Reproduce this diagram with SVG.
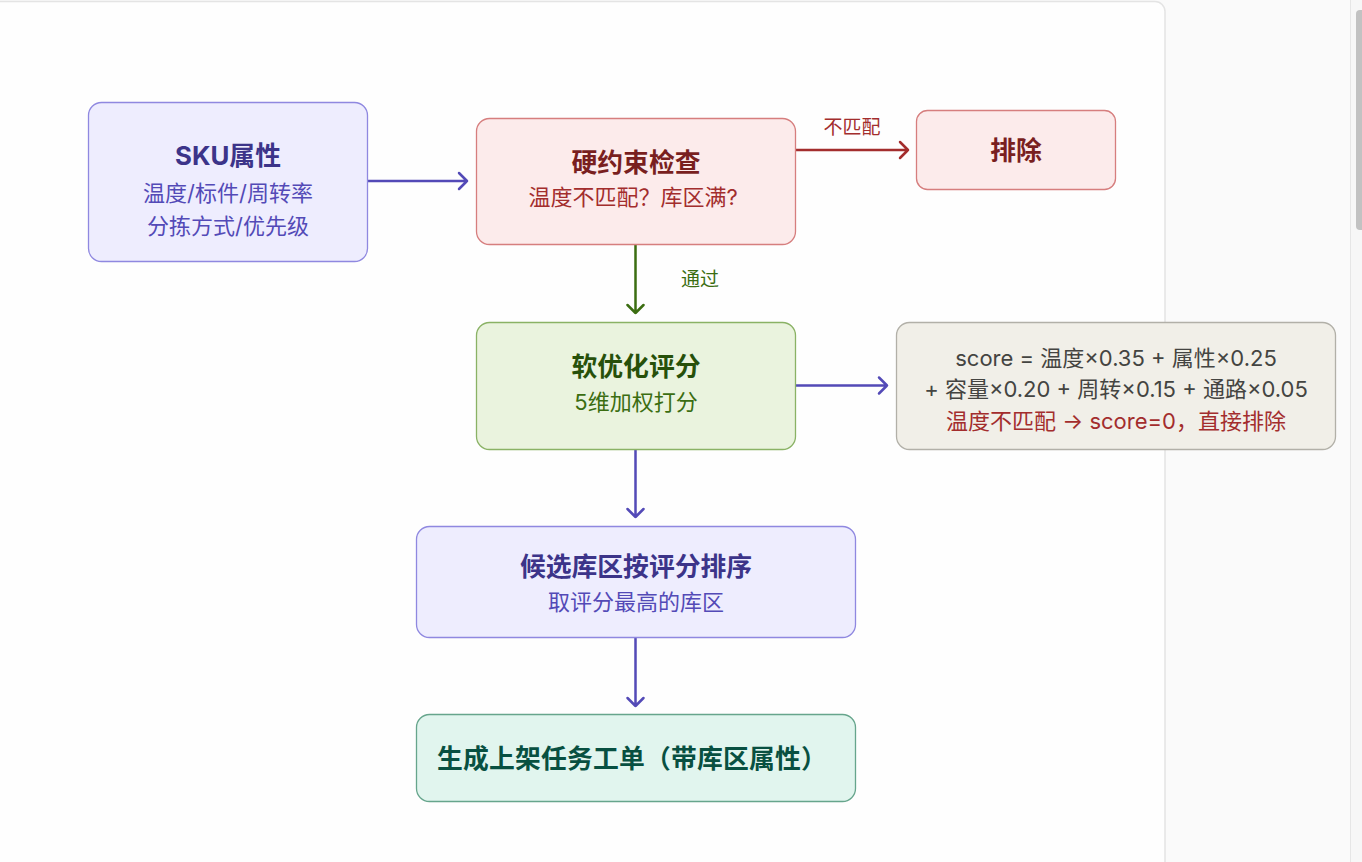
<svg xmlns="http://www.w3.org/2000/svg" width="1362" height="862" viewBox="0 0 1362 862">
<defs>
<style>
text{font-family:"Inter","Noto Sans CJK SC",sans-serif;text-anchor:middle}
.t{font-size:25.8px;font-weight:700}
.s{font-size:22px}
.n{font-size:22px;fill:#444441}
.e{font-size:19px}
.pur rect{fill:#EEEDFE;stroke:#8F88E0;stroke-width:1.3}
.red rect{fill:#FCEBEB;stroke:#D67E7E;stroke-width:1.3}
.grn rect{fill:#EAF3DE;stroke:#8AB265;stroke-width:1.3}
.tea rect{fill:#E1F5EE;stroke:#66A58C;stroke-width:1.3}
.gry rect{fill:#F1EFE8;stroke:#B2B0A8;stroke-width:1.3}
.ap{stroke:#534AB7}
.ar{stroke:#A32D2D}
.ag{stroke:#3B6D11}
#edges path{fill:none;stroke-width:2.5;stroke-linecap:round;stroke-linejoin:round}
</style>
</defs>
<rect x="0" y="0" width="1362" height="862" fill="#FAFAFA"/>
<path d="M-2 1.5 H1155 a10 10 0 0 1 10 10 V870 H-2 Z" fill="#FEFEFE" stroke="#E4E4E4" stroke-width="1.5"/>
<rect x="1350" y="0" width="12" height="862" fill="#F7F7F7"/>
<line x1="1350.5" y1="0" x2="1350.5" y2="862" stroke="#E6E6E6" stroke-width="1"/>
<rect x="1356" y="10" width="10" height="220" rx="4" fill="#C2C2C2"/>

<g id="edges">
<path class="ap" d="M368 181 H467 M459 173 L467 181 L459 189"/>
<path class="ar" d="M796 150 H908 M900 142 L908 150 L900 158"/>
<path class="ag" d="M635.5 245 V313 M627.5 305 L635.5 313 L643.5 305"/>
<path class="ap" d="M796 385.5 H887 M879 377.5 L887 385.5 L879 393.5"/>
<path class="ap" d="M635.5 450 V517 M627.5 509 L635.5 517 L643.5 509"/>
<path class="ap" d="M635.5 638 V706 M627.5 698 L635.5 706 L643.5 698"/>
<text class="e" x="852" y="134" fill="#A32D2D">不匹配</text>
<text class="e" x="700" y="286" fill="#3B6D11">通过</text>
</g>

<g id="sku" class="pur">
<rect x="88.5" y="102.5" width="279" height="159" rx="13"/>
<text class="t" x="228" y="165" fill="#3C3489">SKU属性</text>
<text class="s" x="228" y="201" fill="#534AB7">温度/标件/周转率</text>
<text class="s" x="228" y="234" fill="#534AB7">分拣方式/优先级</text>
</g>

<g id="hard" class="red">
<rect x="476.5" y="118.5" width="319" height="126" rx="13"/>
<text class="t" x="636" y="172" fill="#791F1F">硬约束检查</text>
<text class="s" x="633" y="205" fill="#A32D2D">温度不匹配？库区满?</text>
</g>

<g id="reject" class="red">
<rect x="916.5" y="110.5" width="199" height="79" rx="11"/>
<text class="t" x="1016" y="160" fill="#791F1F">排除</text>
</g>

<g id="soft" class="grn">
<rect x="476.5" y="322.5" width="319" height="127" rx="13"/>
<text class="t" x="636" y="376" fill="#27500A">软优化评分</text>
<text class="s" x="636" y="410" fill="#3B6D11">5维加权打分</text>
</g>

<g id="score" class="gry">
<rect x="896.5" y="322.5" width="439" height="127" rx="13"/>
<text class="n" x="1116" y="366">score = 温度×0.35 + 属性×0.25</text>
<text class="n" x="1116" y="397">+ 容量×0.20 + 周转×0.15 + 通路×0.05</text>
<text class="n" x="1116" y="429" style="fill:#A32D2D">温度不匹配 → score=0，直接排除</text>
</g>

<g id="rank" class="pur">
<rect x="416.5" y="526.5" width="439" height="111" rx="13"/>
<text class="t" x="636" y="576" fill="#3C3489">候选库区按评分排序</text>
<text class="s" x="636" y="610" fill="#534AB7">取评分最高的库区</text>
</g>

<g id="gen" class="tea">
<rect x="416.5" y="714.5" width="439" height="87" rx="13"/>
<text class="t" x="632" y="768" fill="#085041" letter-spacing="0.2">生成上架任务工单（带库区属性）</text>
</g>
</svg>
